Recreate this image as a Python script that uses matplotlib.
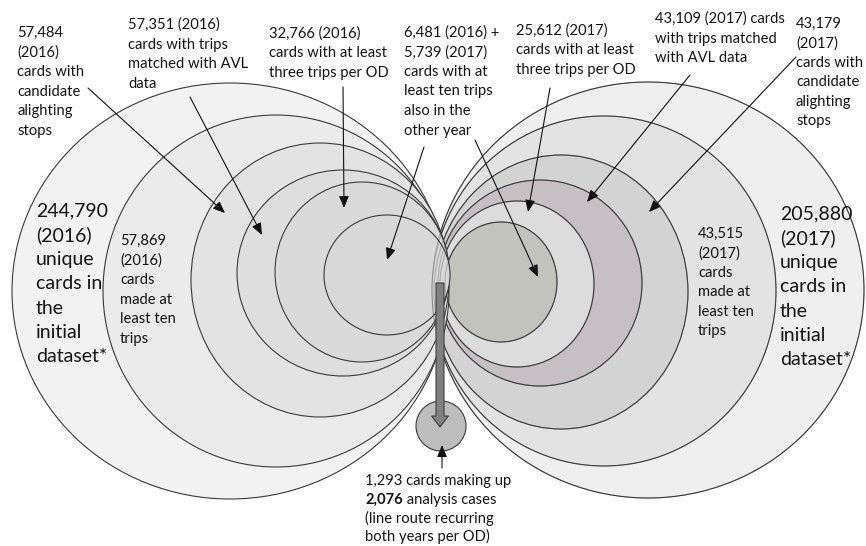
import matplotlib
matplotlib.use("Agg")
import matplotlib.pyplot as plt
from matplotlib.patches import Ellipse, FancyArrow, Circle

plt.rcParams['font.family'] = ['Lato', 'DejaVu Sans']

# ---------------- data ----------------
counts_2016 = [244790, 57869, 57484, 57351, 32766, 6481]
counts_2017 = [205880, 43515, 43179, 43109, 25612, 5739]
final_cards = 1293
final_cases = 2076

labels_2016 = [
    "{:,}\n(2016)\nunique\ncards in\nthe\ninitial\ndataset*",
    "{:,}\n(2016)\ncards\nmade at\nleast ten\ntrips",
    "{:,}\n(2016)\ncards with\ncandidate\nalighting\nstops",
    "{:,} (2016)\ncards with trips\nmatched with AVL\ndata",
    "{:,} (2016)\ncards with at least\nthree trips per OD",
]
labels_2017 = [
    "{:,}\n(2017)\nunique\ncards in\nthe\ninitial\ndataset*",
    "{:,}\n(2017)\ncards\nmade at\nleast ten\ntrips",
    "{:,}\n(2017)\ncards with\ncandidate\nalighting\nstops",
    "{:,} (2017) cards\nwith trips matched\nwith AVL data",
    "{:,} (2017)\ncards with at least\nthree trips per OD",
]
both_label = "{:,} (2016) +\n{:,} (2017)\ncards with at\nleast ten trips\nalso in the\nother year"

# ---------------- layout (pixels) ----------------
# ellipses: (cx, cy, rx, ry), outer -> inner
geo_2016 = [(230, 291, 218, 208), (276, 291, 173, 176), (320, 280, 129, 137),
            (343, 273, 106, 103), (362, 272, 87, 90), (387, 275, 63, 60)]
geo_2017 = [(648, 290, 216, 208), (604, 291, 172, 175), (561, 292, 127, 137),
            (540, 283, 102, 103), (517, 284, 77, 83), (501, 282, 56, 60)]
col_2016 = ['#f2f2f2', '#ebebeb', '#e3e3e3', '#dedede', '#dadada', '#d8d8d8']
col_2017 = ['#efefef', '#e3e3e3', '#d3d3d3', '#c6bfc4', '#dcdcdc', '#c3c3bd']
edge = '#3a3a3a'

fig = plt.figure(figsize=(8.66, 5.46), dpi=100)
ax = fig.add_axes([0, 0, 1, 1])
ax.set_xlim(0, 866)
ax.set_ylim(546, 0)
ax.axis('off')

z = 1
for (cx, cy, rx, ry), c in zip(geo_2017, col_2017):
    ax.add_patch(Ellipse((cx, cy), 2 * rx, 2 * ry, facecolor=c, edgecolor=edge, lw=0.8, zorder=z))
    z += 1
for (cx, cy, rx, ry), c in zip(geo_2016, col_2016):
    ax.add_patch(Ellipse((cx, cy), 2 * rx, 2 * ry, facecolor=c, edgecolor=edge, lw=0.8, zorder=z))
    z += 1
for (cx, cy, rx, ry) in geo_2017:
    ax.add_patch(Ellipse((cx, cy), 2 * rx, 2 * ry, facecolor='none', edgecolor=edge, lw=0.7, alpha=0.3, zorder=z))

# final small circle and big arrow
ax.add_patch(Circle((441, 426), 25, facecolor='#bdbdbd', edgecolor=edge, lw=0.8, zorder=30))
ax.add_patch(FancyArrow(440, 283, 0, 144, width=8, head_width=17, head_length=11,
                        length_includes_head=True, facecolor='#808080', edgecolor='#404040',
                        lw=0.8, zorder=31))

FS = 10.6
LS = 19.5
BFS = 14.0
BLS = 24.3
TXT = '#141414'


def put(text, x, y0, fs=FS, ls=LS, **kw):
    for i, line in enumerate(text.split("\n")):
        ax.text(x, y0 + i * ls, line, fontsize=fs, va='baseline', ha='left',
                color=TXT, zorder=40, **kw)


# text positions (x, first baseline)
pos_2016 = [(36, 216.5, BFS, BLS), (120, 245, FS, LS), (17, 37, FS, LS),
            (128, 29, FS, LS), (269, 37.5, FS, LS)]
pos_2017 = [(780, 219.5, BFS, BLS), (698, 238, FS, LS), (796, 28, FS, LS),
            (655, 23, FS, LS), (516, 35, FS, LS)]
for lab, n, (x, y, fs, ls) in zip(labels_2016, counts_2016, pos_2016):
    put(lab.format(n), x, y, fs, ls)
for lab, n, (x, y, fs, ls) in zip(labels_2017, counts_2017, pos_2017):
    put(lab.format(n), x, y, fs, ls)
put(both_label.format(counts_2016[5], counts_2017[5]), 404, 37)

# bottom label with bold number
BY = 485.5
BL = 18.5
put("{:,} cards making up".format(final_cards), 365, BY, ls=BL)
fig.canvas.draw()
r = fig.canvas.get_renderer()
tb = ax.text(365, BY + BL, "{:,}".format(final_cases), fontsize=FS, fontweight='bold',
             va='baseline', ha='left', color=TXT, zorder=40)
bb = tb.get_window_extent(renderer=r)
xr = ax.transData.inverted().transform((bb.x1, bb.y0))[0]
ax.text(xr, BY + BL, " analysis cases", fontsize=FS, va='baseline', ha='left',
        color=TXT, zorder=40)
put("(line route recurring\nboth years per OD)", 365, BY + 2 * BL, ls=BL)

# pointer arrows (start, tip)
pointers = [((88, 88), (225, 213)), ((190, 97), (262, 235)), ((343, 87), (344, 208)),
            ((424, 147), (387, 260)), ((475, 140), (538, 277)), ((550, 88), (528, 212)),
            ((690, 75), (587, 202)), ((796, 57), (649, 212)), ((442, 468), (442, 445))]
for s, t in pointers:
    ax.annotate("", xy=t, xytext=s,
                arrowprops=dict(arrowstyle='-|>,head_length=0.6,head_width=0.25', color='#111111',
                                lw=0.8, shrinkA=0, shrinkB=0, mutation_scale=12), zorder=45)

fig.savefig("out.png", dpi=100)
